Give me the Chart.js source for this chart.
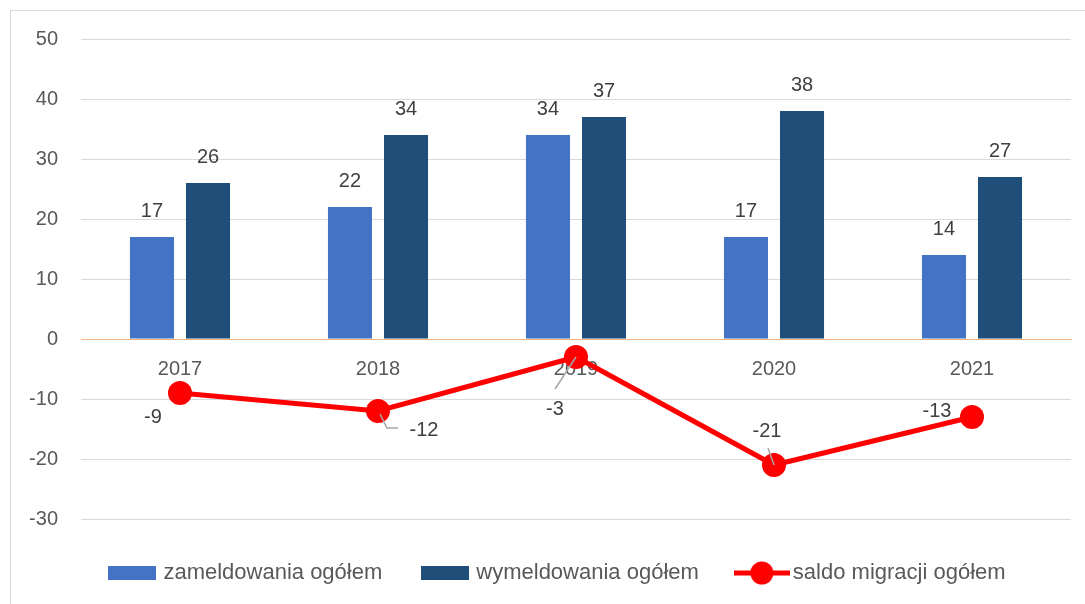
<!DOCTYPE html>
<html>
<head>
<meta charset="utf-8">
<script src="https://cdn.jsdelivr.net/npm/chart.js@4.4.1/dist/chart.umd.min.js"></script>
<style>
html,body{margin:0;padding:0;background:#fff;}
#wrap{position:relative;width:1085px;height:604px;}
</style>
</head>
<body>
<div id="wrap"><canvas id="c" width="1085" height="604"></canvas></div>
<script>
const categories = ['2017', '2018', '2019', '2020', '2021'];
const zameldowania = [17, 22, 34, 17, 14];
const wymeldowania = [26, 34, 37, 38, 27];
const saldo = [-9, -12, -3, -21, -13];
const seriesNames = ['zameldowania ogółem', 'wymeldowania ogółem', 'saldo migracji ogółem'];
const yMin = -30, yMax = 50, yStep = 10;

const FONT = "'Liberation Sans', Arial, sans-serif";
const COL_LIGHT = '#4472C4';
const COL_DARK = '#1F4E79';
const COL_RED = '#FF0000';
const TEXT = '#595959';
const LABEL = '#404040';

// label placement for the line series (offsets from point, px) and leader lines
const lineLabelLayout = [
  {dx: -27, dy: 24},
  {dx: 46, dy: 19, leader: [[2, 3], [9, 17], [20, 17]]},
  {dx: -21, dy: 52, leader: [[0, 0], [-21, 32]]},
  {dx: -7, dy: -34, leader: [[-6, -17], [0, 0]]},
  {dx: -35, dy: -6}
];

function makeBoxIcon(color) {
  const c = document.createElement('canvas');
  c.width = 48; c.height = 14;
  const g = c.getContext('2d');
  g.fillStyle = color; g.fillRect(0, 0, 48, 14);
  return c;
}
function makeLineIcon(color) {
  const c = document.createElement('canvas');
  c.width = 56; c.height = 26;
  const g = c.getContext('2d');
  g.strokeStyle = color; g.lineWidth = 5;
  g.beginPath(); g.moveTo(0, 13); g.lineTo(56, 13); g.stroke();
  g.fillStyle = color; g.beginPath(); g.arc(28, 13, 11.5, 0, Math.PI * 2); g.fill();
  return c;
}
const icons = [makeBoxIcon(COL_LIGHT), makeBoxIcon(COL_DARK), makeLineIcon(COL_RED)];

const borderPlugin = {
  id: 'frame',
  beforeDraw(chart) {
    const ctx = chart.ctx;
    ctx.save();
    ctx.strokeStyle = '#d9d9d9'; ctx.lineWidth = 1;
    ctx.strokeRect(10.5, 10.5, 1090, 600);
    ctx.restore();
  }
};

const labelPlugin = {
  id: 'valueLabels',
  afterDatasetsDraw(chart) {
    const ctx = chart.ctx;
    ctx.save();
    ctx.font = '20px ' + FONT;
    ctx.fillStyle = LABEL;
    ctx.textAlign = 'center';
    ctx.textBaseline = 'middle';
    [0, 1].forEach(di => {
      const meta = chart.getDatasetMeta(di);
      meta.data.forEach((el, i) => {
        ctx.fillText(String(chart.data.datasets[di].data[i]), el.x, el.y - 26);
      });
    });
    const meta = chart.getDatasetMeta(2);
    meta.data.forEach((el, i) => {
      const L = lineLabelLayout[i];
      if (L.leader) {
        ctx.strokeStyle = '#a6a6a6'; ctx.lineWidth = 1.5;
        ctx.beginPath();
        L.leader.forEach((p, k) => {
          if (k === 0) ctx.moveTo(el.x + p[0], el.y + p[1]);
          else ctx.lineTo(el.x + p[0], el.y + p[1]);
        });
        ctx.stroke();
      }
      ctx.fillStyle = LABEL;
      ctx.fillText(String(chart.data.datasets[2].data[i]), el.x + L.dx, el.y + L.dy);
    });
    ctx.restore();
  }
};

new Chart(document.getElementById('c'), {
  data: {
    labels: categories,
    datasets: [
      {type: 'bar', label: seriesNames[0], data: zameldowania, backgroundColor: COL_LIGHT, order: 1,
       xAxisID: 'x', yAxisID: 'y', categoryPercentage: 0.566, barPercentage: 0.786},
      {type: 'bar', label: seriesNames[1], data: wymeldowania, backgroundColor: COL_DARK, order: 1,
       xAxisID: 'x', yAxisID: 'y', categoryPercentage: 0.566, barPercentage: 0.786},
      {type: 'line', label: seriesNames[2], data: saldo, borderColor: COL_RED, backgroundColor: COL_RED,
       xAxisID: 'x', yAxisID: 'y',
       borderWidth: 5, pointRadius: 12, pointHoverRadius: 12, pointBackgroundColor: COL_RED,
       pointBorderWidth: 0, tension: 0, order: 0}
    ]
  },
  options: {
    responsive: false,
    animation: false,
    layout: {padding: {left: 0, right: -33, top: 39, bottom: 10}},
    plugins: {
      tooltip: {enabled: false},
      legend: {
        position: 'bottom',
        labels: {
          usePointStyle: true,
          pointStyleWidth: 40,
          boxHeight: 14,
          padding: 43,
          color: TEXT,
          font: {family: FONT, size: 22},
          generateLabels(chart) {
            return chart.data.datasets.map((ds, i) => ({
              text: ds.label, pointStyle: icons[i], fillStyle: ds.backgroundColor,
              strokeStyle: ds.backgroundColor, lineWidth: 0, hidden: false, datasetIndex: i,
              fontColor: TEXT
            }));
          }
        }
      }
    },
    scales: {
      x: {
        position: {y: 0},
        grid: {display: false, drawTicks: false},
        border: {display: true, color: '#F4B183', width: 1},
        ticks: {color: TEXT, font: {family: FONT, size: 20}, padding: 18}
      },
      y: {
        min: yMin, max: yMax,
        afterFit(scale) { scale.width = 81; },
        grid: {
          drawTicks: false,
          color: ctx => (ctx.tick && ctx.tick.value === 0) ? '#F4B183' : '#d9d9d9',
          lineWidth: 1
        },
        border: {display: false},
        ticks: {stepSize: yStep, color: TEXT, font: {family: FONT, size: 20}, padding: 23}
      },
      ySpacer: {
        type: 'linear', axis: 'y', position: 'right', display: true, min: yMin, max: yMax,
        grid: {display: false}, border: {display: false}, ticks: {display: false},
        afterFit(scale) { scale.width = 47; }
      }
    }
  },
  plugins: [borderPlugin, labelPlugin]
});
</script>
</body>
</html>
